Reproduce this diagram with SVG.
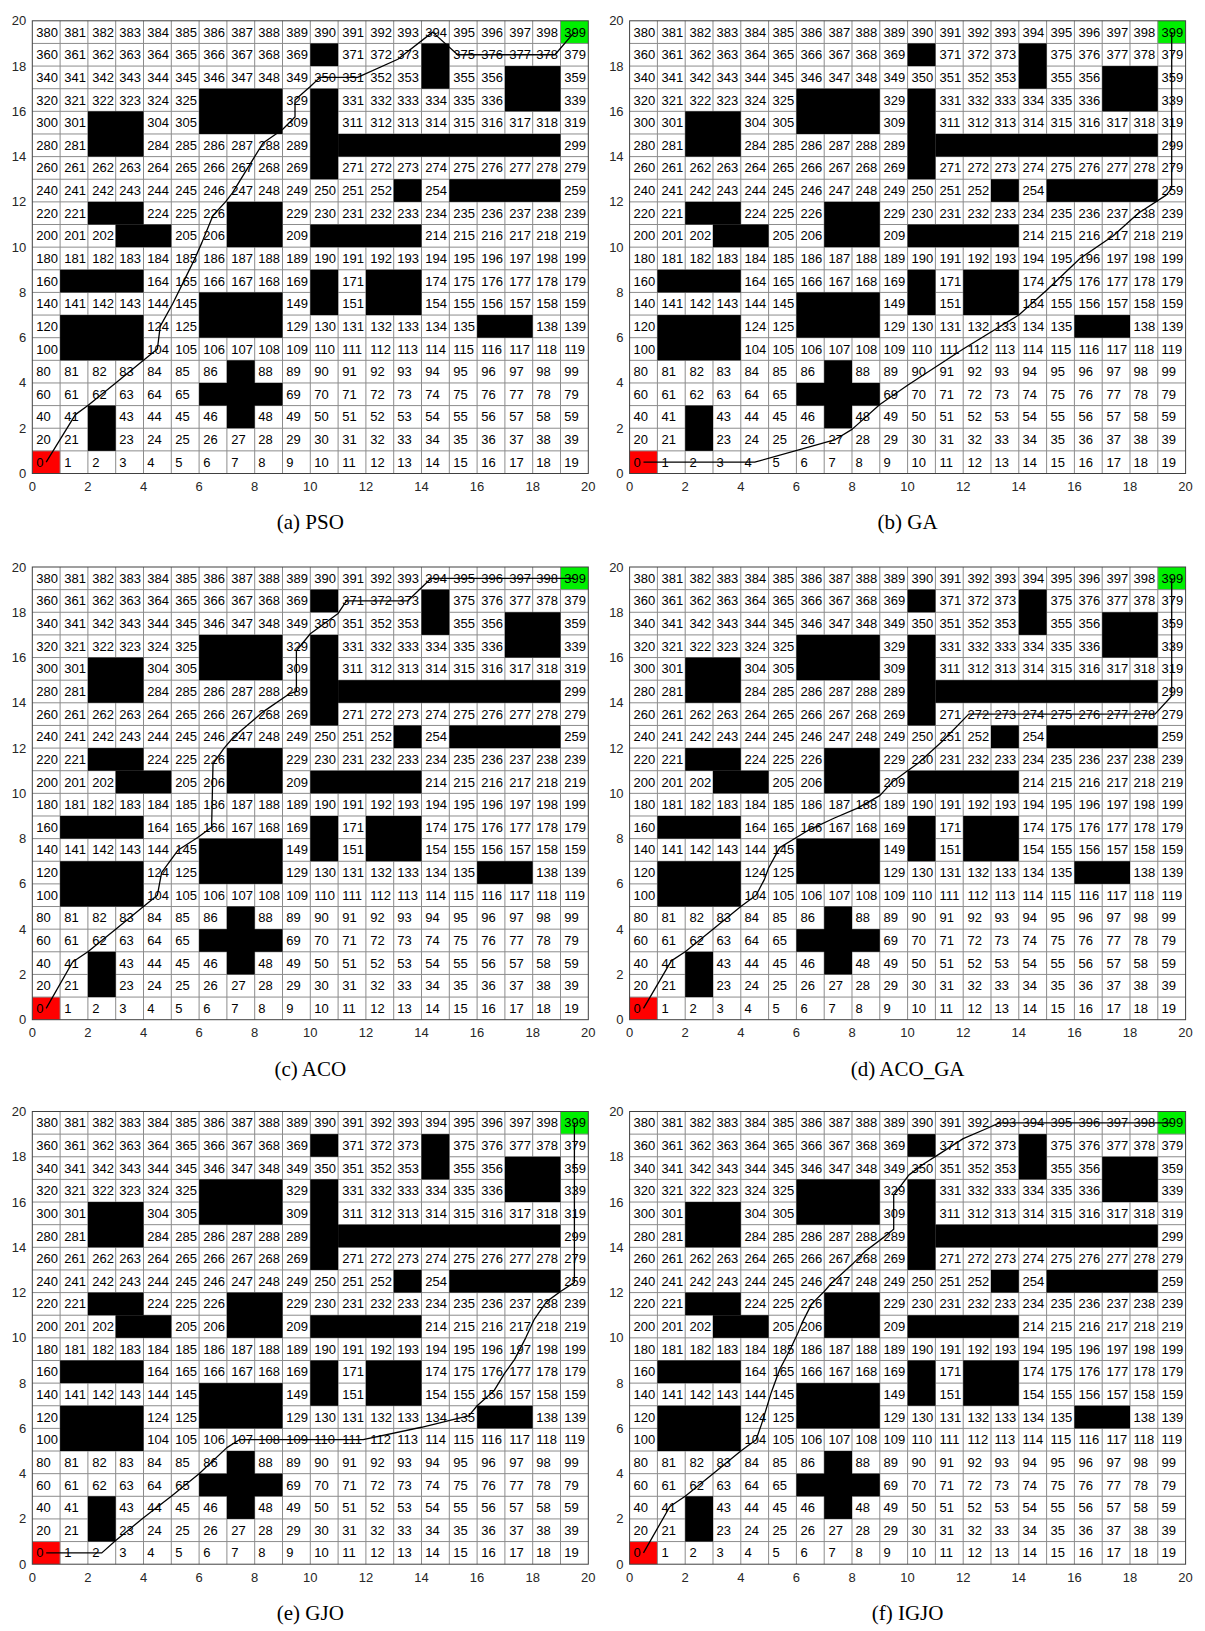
<svg xmlns="http://www.w3.org/2000/svg" xmlns:xlink="http://www.w3.org/1999/xlink" width="1205" height="1631" viewBox="0 0 1205 1631">
<style>
.n text{font-family:"Liberation Sans",Arial,sans-serif;font-size:13px;fill:#000}
.ty text{font-family:"Liberation Sans",Arial,sans-serif;font-size:13px;fill:#262626;text-anchor:end}
.tx text{font-family:"Liberation Sans",Arial,sans-serif;font-size:13px;fill:#262626;text-anchor:middle}
.cap{font-family:"Liberation Serif","Times New Roman",serif;font-size:21px;fill:#000;text-anchor:middle}
.p{fill:none;stroke:#000;stroke-width:1.3;vector-effect:non-scaling-stroke;stroke-linejoin:round}
.gl{fill:none;stroke:#8c8c8c;stroke-width:1}
.ob{fill:#000}
</style>
<defs>
<g id="field">
<rect x="0" y="0" width="556" height="452.7" fill="#fff"/>
<rect x="0" y="430.065" width="27.8" height="22.635" fill="#ff0000"/>
<rect x="528.2" y="0" width="27.8" height="22.635" fill="#00f000"/>
<path class="gl" d="M0 22.635H556M0 45.27H556M0 67.905H556M0 90.54H556M0 113.175H556M0 135.81H556M0 158.445H556M0 181.08H556M0 203.715H556M0 226.35H556M0 248.985H556M0 271.62H556M0 294.255H556M0 316.89H556M0 339.525H556M0 362.16H556M0 384.795H556M0 407.43H556M0 430.065H556M27.8 0V452.7M55.6 0V452.7M83.4 0V452.7M111.2 0V452.7M139 0V452.7M166.8 0V452.7M194.6 0V452.7M222.4 0V452.7M250.2 0V452.7M278 0V452.7M305.8 0V452.7M333.6 0V452.7M361.4 0V452.7M389.2 0V452.7M417 0V452.7M444.8 0V452.7M472.6 0V452.7M500.4 0V452.7M528.2 0V452.7"/>
<g class="ob">
<rect x="278" y="22.635" width="27.8" height="22.635"/>
<rect x="389.2" y="22.635" width="27.8" height="45.27"/>
<rect x="472.6" y="45.27" width="55.6" height="45.27"/>
<rect x="166.8" y="67.905" width="83.4" height="45.27"/>
<rect x="278" y="67.905" width="27.8" height="90.54"/>
<rect x="55.6" y="90.54" width="55.6" height="45.27"/>
<rect x="305.8" y="113.175" width="222.4" height="22.635"/>
<rect x="361.4" y="158.445" width="27.8" height="22.635"/>
<rect x="417" y="158.445" width="111.2" height="22.635"/>
<rect x="55.6" y="181.08" width="55.6" height="22.635"/>
<rect x="194.6" y="181.08" width="55.6" height="45.27"/>
<rect x="83.4" y="203.715" width="55.6" height="22.635"/>
<rect x="278" y="203.715" width="111.2" height="22.635"/>
<rect x="27.8" y="248.985" width="83.4" height="22.635"/>
<rect x="278" y="248.985" width="27.8" height="45.27"/>
<rect x="333.6" y="248.985" width="55.6" height="45.27"/>
<rect x="166.8" y="271.62" width="83.4" height="45.27"/>
<rect x="27.8" y="294.255" width="83.4" height="45.27"/>
<rect x="444.8" y="294.255" width="55.6" height="22.635"/>
<rect x="194.6" y="339.525" width="27.8" height="67.905"/>
<rect x="166.8" y="362.16" width="83.4" height="22.635"/>
<rect x="55.6" y="384.795" width="27.8" height="45.27"/>
</g>
<rect x="0" y="0" width="556" height="452.7" fill="none" stroke="#404040" stroke-width="1"/>
</g>
</defs>

<g id="panel-a" transform="translate(32.3,20.8)">
<use xlink:href="#field" href="#field"/>
<g class="n" transform="translate(4,15.8)">
<g><text x="0">380</text><text x="28">381</text><text x="56">382</text><text x="83">383</text><text x="111">384</text><text x="139">385</text><text x="167">386</text><text x="195">387</text><text x="222">388</text><text x="250">389</text><text x="278">390</text><text x="306">391</text><text x="334">392</text><text x="361">393</text><text x="389">394</text><text x="417">395</text><text x="445">396</text><text x="473">397</text><text x="500">398</text><text x="528">399</text></g>
<g transform="translate(0,22.6)"><text x="0">360</text><text x="28">361</text><text x="56">362</text><text x="83">363</text><text x="111">364</text><text x="139">365</text><text x="167">366</text><text x="195">367</text><text x="222">368</text><text x="250">369</text><text x="306">371</text><text x="334">372</text><text x="361">373</text><text x="417">375</text><text x="445">376</text><text x="473">377</text><text x="500">378</text><text x="528">379</text></g>
<g transform="translate(0,45.3)"><text x="0">340</text><text x="28">341</text><text x="56">342</text><text x="83">343</text><text x="111">344</text><text x="139">345</text><text x="167">346</text><text x="195">347</text><text x="222">348</text><text x="250">349</text><text x="278">350</text><text x="306">351</text><text x="334">352</text><text x="361">353</text><text x="417">355</text><text x="445">356</text><text x="528">359</text></g>
<g transform="translate(0,67.9)"><text x="0">320</text><text x="28">321</text><text x="56">322</text><text x="83">323</text><text x="111">324</text><text x="139">325</text><text x="250">329</text><text x="306">331</text><text x="334">332</text><text x="361">333</text><text x="389">334</text><text x="417">335</text><text x="445">336</text><text x="528">339</text></g>
<g transform="translate(0,90.5)"><text x="0">300</text><text x="28">301</text><text x="111">304</text><text x="139">305</text><text x="250">309</text><text x="306">311</text><text x="334">312</text><text x="361">313</text><text x="389">314</text><text x="417">315</text><text x="445">316</text><text x="473">317</text><text x="500">318</text><text x="528">319</text></g>
<g transform="translate(0,113.2)"><text x="0">280</text><text x="28">281</text><text x="111">284</text><text x="139">285</text><text x="167">286</text><text x="195">287</text><text x="222">288</text><text x="250">289</text><text x="528">299</text></g>
<g transform="translate(0,135.8)"><text x="0">260</text><text x="28">261</text><text x="56">262</text><text x="83">263</text><text x="111">264</text><text x="139">265</text><text x="167">266</text><text x="195">267</text><text x="222">268</text><text x="250">269</text><text x="306">271</text><text x="334">272</text><text x="361">273</text><text x="389">274</text><text x="417">275</text><text x="445">276</text><text x="473">277</text><text x="500">278</text><text x="528">279</text></g>
<g transform="translate(0,158.4)"><text x="0">240</text><text x="28">241</text><text x="56">242</text><text x="83">243</text><text x="111">244</text><text x="139">245</text><text x="167">246</text><text x="195">247</text><text x="222">248</text><text x="250">249</text><text x="278">250</text><text x="306">251</text><text x="334">252</text><text x="389">254</text><text x="528">259</text></g>
<g transform="translate(0,181.1)"><text x="0">220</text><text x="28">221</text><text x="111">224</text><text x="139">225</text><text x="167">226</text><text x="250">229</text><text x="278">230</text><text x="306">231</text><text x="334">232</text><text x="361">233</text><text x="389">234</text><text x="417">235</text><text x="445">236</text><text x="473">237</text><text x="500">238</text><text x="528">239</text></g>
<g transform="translate(0,203.7)"><text x="0">200</text><text x="28">201</text><text x="56">202</text><text x="139">205</text><text x="167">206</text><text x="250">209</text><text x="389">214</text><text x="417">215</text><text x="445">216</text><text x="473">217</text><text x="500">218</text><text x="528">219</text></g>
<g transform="translate(0,226.4)"><text x="0">180</text><text x="28">181</text><text x="56">182</text><text x="83">183</text><text x="111">184</text><text x="139">185</text><text x="167">186</text><text x="195">187</text><text x="222">188</text><text x="250">189</text><text x="278">190</text><text x="306">191</text><text x="334">192</text><text x="361">193</text><text x="389">194</text><text x="417">195</text><text x="445">196</text><text x="473">197</text><text x="500">198</text><text x="528">199</text></g>
<g transform="translate(0,249)"><text x="0">160</text><text x="111">164</text><text x="139">165</text><text x="167">166</text><text x="195">167</text><text x="222">168</text><text x="250">169</text><text x="306">171</text><text x="389">174</text><text x="417">175</text><text x="445">176</text><text x="473">177</text><text x="500">178</text><text x="528">179</text></g>
<g transform="translate(0,271.6)"><text x="0">140</text><text x="28">141</text><text x="56">142</text><text x="83">143</text><text x="111">144</text><text x="139">145</text><text x="250">149</text><text x="306">151</text><text x="389">154</text><text x="417">155</text><text x="445">156</text><text x="473">157</text><text x="500">158</text><text x="528">159</text></g>
<g transform="translate(0,294.3)"><text x="0">120</text><text x="111">124</text><text x="139">125</text><text x="250">129</text><text x="278">130</text><text x="306">131</text><text x="334">132</text><text x="361">133</text><text x="389">134</text><text x="417">135</text><text x="500">138</text><text x="528">139</text></g>
<g transform="translate(0,316.9)"><text x="0">100</text><text x="111">104</text><text x="139">105</text><text x="167">106</text><text x="195">107</text><text x="222">108</text><text x="250">109</text><text x="278">110</text><text x="306">111</text><text x="334">112</text><text x="361">113</text><text x="389">114</text><text x="417">115</text><text x="445">116</text><text x="473">117</text><text x="500">118</text><text x="528">119</text></g>
<g transform="translate(0,339.5)"><text x="0">80</text><text x="28">81</text><text x="56">82</text><text x="83">83</text><text x="111">84</text><text x="139">85</text><text x="167">86</text><text x="222">88</text><text x="250">89</text><text x="278">90</text><text x="306">91</text><text x="334">92</text><text x="361">93</text><text x="389">94</text><text x="417">95</text><text x="445">96</text><text x="473">97</text><text x="500">98</text><text x="528">99</text></g>
<g transform="translate(0,362.2)"><text x="0">60</text><text x="28">61</text><text x="56">62</text><text x="83">63</text><text x="111">64</text><text x="139">65</text><text x="250">69</text><text x="278">70</text><text x="306">71</text><text x="334">72</text><text x="361">73</text><text x="389">74</text><text x="417">75</text><text x="445">76</text><text x="473">77</text><text x="500">78</text><text x="528">79</text></g>
<g transform="translate(0,384.8)"><text x="0">40</text><text x="28">41</text><text x="83">43</text><text x="111">44</text><text x="139">45</text><text x="167">46</text><text x="222">48</text><text x="250">49</text><text x="278">50</text><text x="306">51</text><text x="334">52</text><text x="361">53</text><text x="389">54</text><text x="417">55</text><text x="445">56</text><text x="473">57</text><text x="500">58</text><text x="528">59</text></g>
<g transform="translate(0,407.4)"><text x="0">20</text><text x="28">21</text><text x="83">23</text><text x="111">24</text><text x="139">25</text><text x="167">26</text><text x="195">27</text><text x="222">28</text><text x="250">29</text><text x="278">30</text><text x="306">31</text><text x="334">32</text><text x="361">33</text><text x="389">34</text><text x="417">35</text><text x="445">36</text><text x="473">37</text><text x="500">38</text><text x="528">39</text></g>
<g transform="translate(0,430.1)"><text x="0">0</text><text x="28">1</text><text x="56">2</text><text x="83">3</text><text x="111">4</text><text x="139">5</text><text x="167">6</text><text x="195">7</text><text x="222">8</text><text x="250">9</text><text x="278">10</text><text x="306">11</text><text x="334">12</text><text x="361">13</text><text x="389">14</text><text x="417">15</text><text x="445">16</text><text x="473">17</text><text x="500">18</text><text x="528">19</text></g>
</g>
<g transform="scale(27.8,22.635)"><polyline class="p" points="0.5,19.5 1.55,17.4 2,17 3,16 4,15 4.5,14.5 4.6,13.5 5.05,12.5 5.45,11.5 5.85,10.5 6.1,9.8 6.2,9.5 6.5,8.6 6.95,8 7.2,7.6 7.95,6.1 8.3,5.4 9,4.8 9.45,4.25 9.45,3.5 10,2.9 10.35,2.5 11.7,2.5 13.15,1.7 14.4,0.5 15.3,1.5 18.8,1.5 19.5,0.5"/></g>
<g class="ty"><text x="-6" y="4.5">20</text><text x="-6" y="49.8">18</text><text x="-6" y="95">16</text><text x="-6" y="140.3">14</text><text x="-6" y="185.6">12</text><text x="-6" y="230.9">10</text><text x="-6" y="276.1">8</text><text x="-6" y="321.4">6</text><text x="-6" y="366.7">4</text><text x="-6" y="411.9">2</text><text x="-6" y="457.2">0</text></g>
<g class="tx"><text x="0" y="470">0</text><text x="55.6" y="470">2</text><text x="111.2" y="470">4</text><text x="166.8" y="470">6</text><text x="222.4" y="470">8</text><text x="278" y="470">10</text><text x="333.6" y="470">12</text><text x="389.2" y="470">14</text><text x="444.8" y="470">16</text><text x="500.4" y="470">18</text><text x="556" y="470">20</text></g>
<text class="cap" x="278" y="508.7">(a) PSO</text>
</g>

<g id="panel-b" transform="translate(629.6,20.8)">
<use xlink:href="#field" href="#field"/>
<g class="n" transform="translate(4,15.8)">
<g><text x="0">380</text><text x="28">381</text><text x="56">382</text><text x="83">383</text><text x="111">384</text><text x="139">385</text><text x="167">386</text><text x="195">387</text><text x="222">388</text><text x="250">389</text><text x="278">390</text><text x="306">391</text><text x="334">392</text><text x="361">393</text><text x="389">394</text><text x="417">395</text><text x="445">396</text><text x="473">397</text><text x="500">398</text><text x="528">399</text></g>
<g transform="translate(0,22.6)"><text x="0">360</text><text x="28">361</text><text x="56">362</text><text x="83">363</text><text x="111">364</text><text x="139">365</text><text x="167">366</text><text x="195">367</text><text x="222">368</text><text x="250">369</text><text x="306">371</text><text x="334">372</text><text x="361">373</text><text x="417">375</text><text x="445">376</text><text x="473">377</text><text x="500">378</text><text x="528">379</text></g>
<g transform="translate(0,45.3)"><text x="0">340</text><text x="28">341</text><text x="56">342</text><text x="83">343</text><text x="111">344</text><text x="139">345</text><text x="167">346</text><text x="195">347</text><text x="222">348</text><text x="250">349</text><text x="278">350</text><text x="306">351</text><text x="334">352</text><text x="361">353</text><text x="417">355</text><text x="445">356</text><text x="528">359</text></g>
<g transform="translate(0,67.9)"><text x="0">320</text><text x="28">321</text><text x="56">322</text><text x="83">323</text><text x="111">324</text><text x="139">325</text><text x="250">329</text><text x="306">331</text><text x="334">332</text><text x="361">333</text><text x="389">334</text><text x="417">335</text><text x="445">336</text><text x="528">339</text></g>
<g transform="translate(0,90.5)"><text x="0">300</text><text x="28">301</text><text x="111">304</text><text x="139">305</text><text x="250">309</text><text x="306">311</text><text x="334">312</text><text x="361">313</text><text x="389">314</text><text x="417">315</text><text x="445">316</text><text x="473">317</text><text x="500">318</text><text x="528">319</text></g>
<g transform="translate(0,113.2)"><text x="0">280</text><text x="28">281</text><text x="111">284</text><text x="139">285</text><text x="167">286</text><text x="195">287</text><text x="222">288</text><text x="250">289</text><text x="528">299</text></g>
<g transform="translate(0,135.8)"><text x="0">260</text><text x="28">261</text><text x="56">262</text><text x="83">263</text><text x="111">264</text><text x="139">265</text><text x="167">266</text><text x="195">267</text><text x="222">268</text><text x="250">269</text><text x="306">271</text><text x="334">272</text><text x="361">273</text><text x="389">274</text><text x="417">275</text><text x="445">276</text><text x="473">277</text><text x="500">278</text><text x="528">279</text></g>
<g transform="translate(0,158.4)"><text x="0">240</text><text x="28">241</text><text x="56">242</text><text x="83">243</text><text x="111">244</text><text x="139">245</text><text x="167">246</text><text x="195">247</text><text x="222">248</text><text x="250">249</text><text x="278">250</text><text x="306">251</text><text x="334">252</text><text x="389">254</text><text x="528">259</text></g>
<g transform="translate(0,181.1)"><text x="0">220</text><text x="28">221</text><text x="111">224</text><text x="139">225</text><text x="167">226</text><text x="250">229</text><text x="278">230</text><text x="306">231</text><text x="334">232</text><text x="361">233</text><text x="389">234</text><text x="417">235</text><text x="445">236</text><text x="473">237</text><text x="500">238</text><text x="528">239</text></g>
<g transform="translate(0,203.7)"><text x="0">200</text><text x="28">201</text><text x="56">202</text><text x="139">205</text><text x="167">206</text><text x="250">209</text><text x="389">214</text><text x="417">215</text><text x="445">216</text><text x="473">217</text><text x="500">218</text><text x="528">219</text></g>
<g transform="translate(0,226.4)"><text x="0">180</text><text x="28">181</text><text x="56">182</text><text x="83">183</text><text x="111">184</text><text x="139">185</text><text x="167">186</text><text x="195">187</text><text x="222">188</text><text x="250">189</text><text x="278">190</text><text x="306">191</text><text x="334">192</text><text x="361">193</text><text x="389">194</text><text x="417">195</text><text x="445">196</text><text x="473">197</text><text x="500">198</text><text x="528">199</text></g>
<g transform="translate(0,249)"><text x="0">160</text><text x="111">164</text><text x="139">165</text><text x="167">166</text><text x="195">167</text><text x="222">168</text><text x="250">169</text><text x="306">171</text><text x="389">174</text><text x="417">175</text><text x="445">176</text><text x="473">177</text><text x="500">178</text><text x="528">179</text></g>
<g transform="translate(0,271.6)"><text x="0">140</text><text x="28">141</text><text x="56">142</text><text x="83">143</text><text x="111">144</text><text x="139">145</text><text x="250">149</text><text x="306">151</text><text x="389">154</text><text x="417">155</text><text x="445">156</text><text x="473">157</text><text x="500">158</text><text x="528">159</text></g>
<g transform="translate(0,294.3)"><text x="0">120</text><text x="111">124</text><text x="139">125</text><text x="250">129</text><text x="278">130</text><text x="306">131</text><text x="334">132</text><text x="361">133</text><text x="389">134</text><text x="417">135</text><text x="500">138</text><text x="528">139</text></g>
<g transform="translate(0,316.9)"><text x="0">100</text><text x="111">104</text><text x="139">105</text><text x="167">106</text><text x="195">107</text><text x="222">108</text><text x="250">109</text><text x="278">110</text><text x="306">111</text><text x="334">112</text><text x="361">113</text><text x="389">114</text><text x="417">115</text><text x="445">116</text><text x="473">117</text><text x="500">118</text><text x="528">119</text></g>
<g transform="translate(0,339.5)"><text x="0">80</text><text x="28">81</text><text x="56">82</text><text x="83">83</text><text x="111">84</text><text x="139">85</text><text x="167">86</text><text x="222">88</text><text x="250">89</text><text x="278">90</text><text x="306">91</text><text x="334">92</text><text x="361">93</text><text x="389">94</text><text x="417">95</text><text x="445">96</text><text x="473">97</text><text x="500">98</text><text x="528">99</text></g>
<g transform="translate(0,362.2)"><text x="0">60</text><text x="28">61</text><text x="56">62</text><text x="83">63</text><text x="111">64</text><text x="139">65</text><text x="250">69</text><text x="278">70</text><text x="306">71</text><text x="334">72</text><text x="361">73</text><text x="389">74</text><text x="417">75</text><text x="445">76</text><text x="473">77</text><text x="500">78</text><text x="528">79</text></g>
<g transform="translate(0,384.8)"><text x="0">40</text><text x="28">41</text><text x="83">43</text><text x="111">44</text><text x="139">45</text><text x="167">46</text><text x="222">48</text><text x="250">49</text><text x="278">50</text><text x="306">51</text><text x="334">52</text><text x="361">53</text><text x="389">54</text><text x="417">55</text><text x="445">56</text><text x="473">57</text><text x="500">58</text><text x="528">59</text></g>
<g transform="translate(0,407.4)"><text x="0">20</text><text x="28">21</text><text x="83">23</text><text x="111">24</text><text x="139">25</text><text x="167">26</text><text x="195">27</text><text x="222">28</text><text x="250">29</text><text x="278">30</text><text x="306">31</text><text x="334">32</text><text x="361">33</text><text x="389">34</text><text x="417">35</text><text x="445">36</text><text x="473">37</text><text x="500">38</text><text x="528">39</text></g>
<g transform="translate(0,430.1)"><text x="0">0</text><text x="28">1</text><text x="56">2</text><text x="83">3</text><text x="111">4</text><text x="139">5</text><text x="167">6</text><text x="195">7</text><text x="222">8</text><text x="250">9</text><text x="278">10</text><text x="306">11</text><text x="334">12</text><text x="361">13</text><text x="389">14</text><text x="417">15</text><text x="445">16</text><text x="473">17</text><text x="500">18</text><text x="528">19</text></g>
</g>
<g transform="scale(27.8,22.635)"><polyline class="p" points="0.5,19.5 4.5,19.5 7.4,18.5 8,18.05 9,16.95 10,16.1 12,14.5 14,13 15,11.9 16.2,10.5 17.4,9.5 18.3,8.5 19.3,7.7 19.5,7.4 19.5,0.5"/></g>
<g class="ty"><text x="-6" y="4.5">20</text><text x="-6" y="49.8">18</text><text x="-6" y="95">16</text><text x="-6" y="140.3">14</text><text x="-6" y="185.6">12</text><text x="-6" y="230.9">10</text><text x="-6" y="276.1">8</text><text x="-6" y="321.4">6</text><text x="-6" y="366.7">4</text><text x="-6" y="411.9">2</text><text x="-6" y="457.2">0</text></g>
<g class="tx"><text x="0" y="470">0</text><text x="55.6" y="470">2</text><text x="111.2" y="470">4</text><text x="166.8" y="470">6</text><text x="222.4" y="470">8</text><text x="278" y="470">10</text><text x="333.6" y="470">12</text><text x="389.2" y="470">14</text><text x="444.8" y="470">16</text><text x="500.4" y="470">18</text><text x="556" y="470">20</text></g>
<text class="cap" x="278" y="508.7">(b) GA</text>
</g>

<g id="panel-c" transform="translate(32.3,567)">
<use xlink:href="#field" href="#field"/>
<g class="n" transform="translate(4,15.8)">
<g><text x="0">380</text><text x="28">381</text><text x="56">382</text><text x="83">383</text><text x="111">384</text><text x="139">385</text><text x="167">386</text><text x="195">387</text><text x="222">388</text><text x="250">389</text><text x="278">390</text><text x="306">391</text><text x="334">392</text><text x="361">393</text><text x="389">394</text><text x="417">395</text><text x="445">396</text><text x="473">397</text><text x="500">398</text><text x="528">399</text></g>
<g transform="translate(0,22.6)"><text x="0">360</text><text x="28">361</text><text x="56">362</text><text x="83">363</text><text x="111">364</text><text x="139">365</text><text x="167">366</text><text x="195">367</text><text x="222">368</text><text x="250">369</text><text x="306">371</text><text x="334">372</text><text x="361">373</text><text x="417">375</text><text x="445">376</text><text x="473">377</text><text x="500">378</text><text x="528">379</text></g>
<g transform="translate(0,45.3)"><text x="0">340</text><text x="28">341</text><text x="56">342</text><text x="83">343</text><text x="111">344</text><text x="139">345</text><text x="167">346</text><text x="195">347</text><text x="222">348</text><text x="250">349</text><text x="278">350</text><text x="306">351</text><text x="334">352</text><text x="361">353</text><text x="417">355</text><text x="445">356</text><text x="528">359</text></g>
<g transform="translate(0,67.9)"><text x="0">320</text><text x="28">321</text><text x="56">322</text><text x="83">323</text><text x="111">324</text><text x="139">325</text><text x="250">329</text><text x="306">331</text><text x="334">332</text><text x="361">333</text><text x="389">334</text><text x="417">335</text><text x="445">336</text><text x="528">339</text></g>
<g transform="translate(0,90.5)"><text x="0">300</text><text x="28">301</text><text x="111">304</text><text x="139">305</text><text x="250">309</text><text x="306">311</text><text x="334">312</text><text x="361">313</text><text x="389">314</text><text x="417">315</text><text x="445">316</text><text x="473">317</text><text x="500">318</text><text x="528">319</text></g>
<g transform="translate(0,113.2)"><text x="0">280</text><text x="28">281</text><text x="111">284</text><text x="139">285</text><text x="167">286</text><text x="195">287</text><text x="222">288</text><text x="250">289</text><text x="528">299</text></g>
<g transform="translate(0,135.8)"><text x="0">260</text><text x="28">261</text><text x="56">262</text><text x="83">263</text><text x="111">264</text><text x="139">265</text><text x="167">266</text><text x="195">267</text><text x="222">268</text><text x="250">269</text><text x="306">271</text><text x="334">272</text><text x="361">273</text><text x="389">274</text><text x="417">275</text><text x="445">276</text><text x="473">277</text><text x="500">278</text><text x="528">279</text></g>
<g transform="translate(0,158.4)"><text x="0">240</text><text x="28">241</text><text x="56">242</text><text x="83">243</text><text x="111">244</text><text x="139">245</text><text x="167">246</text><text x="195">247</text><text x="222">248</text><text x="250">249</text><text x="278">250</text><text x="306">251</text><text x="334">252</text><text x="389">254</text><text x="528">259</text></g>
<g transform="translate(0,181.1)"><text x="0">220</text><text x="28">221</text><text x="111">224</text><text x="139">225</text><text x="167">226</text><text x="250">229</text><text x="278">230</text><text x="306">231</text><text x="334">232</text><text x="361">233</text><text x="389">234</text><text x="417">235</text><text x="445">236</text><text x="473">237</text><text x="500">238</text><text x="528">239</text></g>
<g transform="translate(0,203.7)"><text x="0">200</text><text x="28">201</text><text x="56">202</text><text x="139">205</text><text x="167">206</text><text x="250">209</text><text x="389">214</text><text x="417">215</text><text x="445">216</text><text x="473">217</text><text x="500">218</text><text x="528">219</text></g>
<g transform="translate(0,226.4)"><text x="0">180</text><text x="28">181</text><text x="56">182</text><text x="83">183</text><text x="111">184</text><text x="139">185</text><text x="167">186</text><text x="195">187</text><text x="222">188</text><text x="250">189</text><text x="278">190</text><text x="306">191</text><text x="334">192</text><text x="361">193</text><text x="389">194</text><text x="417">195</text><text x="445">196</text><text x="473">197</text><text x="500">198</text><text x="528">199</text></g>
<g transform="translate(0,249)"><text x="0">160</text><text x="111">164</text><text x="139">165</text><text x="167">166</text><text x="195">167</text><text x="222">168</text><text x="250">169</text><text x="306">171</text><text x="389">174</text><text x="417">175</text><text x="445">176</text><text x="473">177</text><text x="500">178</text><text x="528">179</text></g>
<g transform="translate(0,271.6)"><text x="0">140</text><text x="28">141</text><text x="56">142</text><text x="83">143</text><text x="111">144</text><text x="139">145</text><text x="250">149</text><text x="306">151</text><text x="389">154</text><text x="417">155</text><text x="445">156</text><text x="473">157</text><text x="500">158</text><text x="528">159</text></g>
<g transform="translate(0,294.3)"><text x="0">120</text><text x="111">124</text><text x="139">125</text><text x="250">129</text><text x="278">130</text><text x="306">131</text><text x="334">132</text><text x="361">133</text><text x="389">134</text><text x="417">135</text><text x="500">138</text><text x="528">139</text></g>
<g transform="translate(0,316.9)"><text x="0">100</text><text x="111">104</text><text x="139">105</text><text x="167">106</text><text x="195">107</text><text x="222">108</text><text x="250">109</text><text x="278">110</text><text x="306">111</text><text x="334">112</text><text x="361">113</text><text x="389">114</text><text x="417">115</text><text x="445">116</text><text x="473">117</text><text x="500">118</text><text x="528">119</text></g>
<g transform="translate(0,339.5)"><text x="0">80</text><text x="28">81</text><text x="56">82</text><text x="83">83</text><text x="111">84</text><text x="139">85</text><text x="167">86</text><text x="222">88</text><text x="250">89</text><text x="278">90</text><text x="306">91</text><text x="334">92</text><text x="361">93</text><text x="389">94</text><text x="417">95</text><text x="445">96</text><text x="473">97</text><text x="500">98</text><text x="528">99</text></g>
<g transform="translate(0,362.2)"><text x="0">60</text><text x="28">61</text><text x="56">62</text><text x="83">63</text><text x="111">64</text><text x="139">65</text><text x="250">69</text><text x="278">70</text><text x="306">71</text><text x="334">72</text><text x="361">73</text><text x="389">74</text><text x="417">75</text><text x="445">76</text><text x="473">77</text><text x="500">78</text><text x="528">79</text></g>
<g transform="translate(0,384.8)"><text x="0">40</text><text x="28">41</text><text x="83">43</text><text x="111">44</text><text x="139">45</text><text x="167">46</text><text x="222">48</text><text x="250">49</text><text x="278">50</text><text x="306">51</text><text x="334">52</text><text x="361">53</text><text x="389">54</text><text x="417">55</text><text x="445">56</text><text x="473">57</text><text x="500">58</text><text x="528">59</text></g>
<g transform="translate(0,407.4)"><text x="0">20</text><text x="28">21</text><text x="83">23</text><text x="111">24</text><text x="139">25</text><text x="167">26</text><text x="195">27</text><text x="222">28</text><text x="250">29</text><text x="278">30</text><text x="306">31</text><text x="334">32</text><text x="361">33</text><text x="389">34</text><text x="417">35</text><text x="445">36</text><text x="473">37</text><text x="500">38</text><text x="528">39</text></g>
<g transform="translate(0,430.1)"><text x="0">0</text><text x="28">1</text><text x="56">2</text><text x="83">3</text><text x="111">4</text><text x="139">5</text><text x="167">6</text><text x="195">7</text><text x="222">8</text><text x="250">9</text><text x="278">10</text><text x="306">11</text><text x="334">12</text><text x="361">13</text><text x="389">14</text><text x="417">15</text><text x="445">16</text><text x="473">17</text><text x="500">18</text><text x="528">19</text></g>
</g>
<g transform="scale(27.8,22.635)"><polyline class="p" points="0.5,19.5 1.45,17.45 2,17 3,16 4,15 4.5,14.5 4.65,13.5 5.25,12.5 5.95,11.95 6.45,11.5 6.5,8.7 6.9,8 7.25,7.5 8.3,6.4 9.25,5.6 9.5,5.5 9.5,3.7 10,2.95 11,2.05 11.3,1.5 13.5,1.5 14.35,0.5 19.5,0.5"/></g>
<g class="ty"><text x="-6" y="4.5">20</text><text x="-6" y="49.8">18</text><text x="-6" y="95">16</text><text x="-6" y="140.3">14</text><text x="-6" y="185.6">12</text><text x="-6" y="230.9">10</text><text x="-6" y="276.1">8</text><text x="-6" y="321.4">6</text><text x="-6" y="366.7">4</text><text x="-6" y="411.9">2</text><text x="-6" y="457.2">0</text></g>
<g class="tx"><text x="0" y="470">0</text><text x="55.6" y="470">2</text><text x="111.2" y="470">4</text><text x="166.8" y="470">6</text><text x="222.4" y="470">8</text><text x="278" y="470">10</text><text x="333.6" y="470">12</text><text x="389.2" y="470">14</text><text x="444.8" y="470">16</text><text x="500.4" y="470">18</text><text x="556" y="470">20</text></g>
<text class="cap" x="278" y="508.7">(c) ACO</text>
</g>

<g id="panel-d" transform="translate(629.6,567)">
<use xlink:href="#field" href="#field"/>
<g class="n" transform="translate(4,15.8)">
<g><text x="0">380</text><text x="28">381</text><text x="56">382</text><text x="83">383</text><text x="111">384</text><text x="139">385</text><text x="167">386</text><text x="195">387</text><text x="222">388</text><text x="250">389</text><text x="278">390</text><text x="306">391</text><text x="334">392</text><text x="361">393</text><text x="389">394</text><text x="417">395</text><text x="445">396</text><text x="473">397</text><text x="500">398</text><text x="528">399</text></g>
<g transform="translate(0,22.6)"><text x="0">360</text><text x="28">361</text><text x="56">362</text><text x="83">363</text><text x="111">364</text><text x="139">365</text><text x="167">366</text><text x="195">367</text><text x="222">368</text><text x="250">369</text><text x="306">371</text><text x="334">372</text><text x="361">373</text><text x="417">375</text><text x="445">376</text><text x="473">377</text><text x="500">378</text><text x="528">379</text></g>
<g transform="translate(0,45.3)"><text x="0">340</text><text x="28">341</text><text x="56">342</text><text x="83">343</text><text x="111">344</text><text x="139">345</text><text x="167">346</text><text x="195">347</text><text x="222">348</text><text x="250">349</text><text x="278">350</text><text x="306">351</text><text x="334">352</text><text x="361">353</text><text x="417">355</text><text x="445">356</text><text x="528">359</text></g>
<g transform="translate(0,67.9)"><text x="0">320</text><text x="28">321</text><text x="56">322</text><text x="83">323</text><text x="111">324</text><text x="139">325</text><text x="250">329</text><text x="306">331</text><text x="334">332</text><text x="361">333</text><text x="389">334</text><text x="417">335</text><text x="445">336</text><text x="528">339</text></g>
<g transform="translate(0,90.5)"><text x="0">300</text><text x="28">301</text><text x="111">304</text><text x="139">305</text><text x="250">309</text><text x="306">311</text><text x="334">312</text><text x="361">313</text><text x="389">314</text><text x="417">315</text><text x="445">316</text><text x="473">317</text><text x="500">318</text><text x="528">319</text></g>
<g transform="translate(0,113.2)"><text x="0">280</text><text x="28">281</text><text x="111">284</text><text x="139">285</text><text x="167">286</text><text x="195">287</text><text x="222">288</text><text x="250">289</text><text x="528">299</text></g>
<g transform="translate(0,135.8)"><text x="0">260</text><text x="28">261</text><text x="56">262</text><text x="83">263</text><text x="111">264</text><text x="139">265</text><text x="167">266</text><text x="195">267</text><text x="222">268</text><text x="250">269</text><text x="306">271</text><text x="334">272</text><text x="361">273</text><text x="389">274</text><text x="417">275</text><text x="445">276</text><text x="473">277</text><text x="500">278</text><text x="528">279</text></g>
<g transform="translate(0,158.4)"><text x="0">240</text><text x="28">241</text><text x="56">242</text><text x="83">243</text><text x="111">244</text><text x="139">245</text><text x="167">246</text><text x="195">247</text><text x="222">248</text><text x="250">249</text><text x="278">250</text><text x="306">251</text><text x="334">252</text><text x="389">254</text><text x="528">259</text></g>
<g transform="translate(0,181.1)"><text x="0">220</text><text x="28">221</text><text x="111">224</text><text x="139">225</text><text x="167">226</text><text x="250">229</text><text x="278">230</text><text x="306">231</text><text x="334">232</text><text x="361">233</text><text x="389">234</text><text x="417">235</text><text x="445">236</text><text x="473">237</text><text x="500">238</text><text x="528">239</text></g>
<g transform="translate(0,203.7)"><text x="0">200</text><text x="28">201</text><text x="56">202</text><text x="139">205</text><text x="167">206</text><text x="250">209</text><text x="389">214</text><text x="417">215</text><text x="445">216</text><text x="473">217</text><text x="500">218</text><text x="528">219</text></g>
<g transform="translate(0,226.4)"><text x="0">180</text><text x="28">181</text><text x="56">182</text><text x="83">183</text><text x="111">184</text><text x="139">185</text><text x="167">186</text><text x="195">187</text><text x="222">188</text><text x="250">189</text><text x="278">190</text><text x="306">191</text><text x="334">192</text><text x="361">193</text><text x="389">194</text><text x="417">195</text><text x="445">196</text><text x="473">197</text><text x="500">198</text><text x="528">199</text></g>
<g transform="translate(0,249)"><text x="0">160</text><text x="111">164</text><text x="139">165</text><text x="167">166</text><text x="195">167</text><text x="222">168</text><text x="250">169</text><text x="306">171</text><text x="389">174</text><text x="417">175</text><text x="445">176</text><text x="473">177</text><text x="500">178</text><text x="528">179</text></g>
<g transform="translate(0,271.6)"><text x="0">140</text><text x="28">141</text><text x="56">142</text><text x="83">143</text><text x="111">144</text><text x="139">145</text><text x="250">149</text><text x="306">151</text><text x="389">154</text><text x="417">155</text><text x="445">156</text><text x="473">157</text><text x="500">158</text><text x="528">159</text></g>
<g transform="translate(0,294.3)"><text x="0">120</text><text x="111">124</text><text x="139">125</text><text x="250">129</text><text x="278">130</text><text x="306">131</text><text x="334">132</text><text x="361">133</text><text x="389">134</text><text x="417">135</text><text x="500">138</text><text x="528">139</text></g>
<g transform="translate(0,316.9)"><text x="0">100</text><text x="111">104</text><text x="139">105</text><text x="167">106</text><text x="195">107</text><text x="222">108</text><text x="250">109</text><text x="278">110</text><text x="306">111</text><text x="334">112</text><text x="361">113</text><text x="389">114</text><text x="417">115</text><text x="445">116</text><text x="473">117</text><text x="500">118</text><text x="528">119</text></g>
<g transform="translate(0,339.5)"><text x="0">80</text><text x="28">81</text><text x="56">82</text><text x="83">83</text><text x="111">84</text><text x="139">85</text><text x="167">86</text><text x="222">88</text><text x="250">89</text><text x="278">90</text><text x="306">91</text><text x="334">92</text><text x="361">93</text><text x="389">94</text><text x="417">95</text><text x="445">96</text><text x="473">97</text><text x="500">98</text><text x="528">99</text></g>
<g transform="translate(0,362.2)"><text x="0">60</text><text x="28">61</text><text x="56">62</text><text x="83">63</text><text x="111">64</text><text x="139">65</text><text x="250">69</text><text x="278">70</text><text x="306">71</text><text x="334">72</text><text x="361">73</text><text x="389">74</text><text x="417">75</text><text x="445">76</text><text x="473">77</text><text x="500">78</text><text x="528">79</text></g>
<g transform="translate(0,384.8)"><text x="0">40</text><text x="28">41</text><text x="83">43</text><text x="111">44</text><text x="139">45</text><text x="167">46</text><text x="222">48</text><text x="250">49</text><text x="278">50</text><text x="306">51</text><text x="334">52</text><text x="361">53</text><text x="389">54</text><text x="417">55</text><text x="445">56</text><text x="473">57</text><text x="500">58</text><text x="528">59</text></g>
<g transform="translate(0,407.4)"><text x="0">20</text><text x="28">21</text><text x="83">23</text><text x="111">24</text><text x="139">25</text><text x="167">26</text><text x="195">27</text><text x="222">28</text><text x="250">29</text><text x="278">30</text><text x="306">31</text><text x="334">32</text><text x="361">33</text><text x="389">34</text><text x="417">35</text><text x="445">36</text><text x="473">37</text><text x="500">38</text><text x="528">39</text></g>
<g transform="translate(0,430.1)"><text x="0">0</text><text x="28">1</text><text x="56">2</text><text x="83">3</text><text x="111">4</text><text x="139">5</text><text x="167">6</text><text x="195">7</text><text x="222">8</text><text x="250">9</text><text x="278">10</text><text x="306">11</text><text x="334">12</text><text x="361">13</text><text x="389">14</text><text x="417">15</text><text x="445">16</text><text x="473">17</text><text x="500">18</text><text x="528">19</text></g>
</g>
<g transform="scale(27.8,22.635)"><polyline class="p" points="0.5,19.5 1.5,17.4 2,17 3,16 4,15 4.55,14.5 4.85,13.8 5,13.3 5.4,12.4 6,11.95 6.4,11.65 7.35,11.1 8.2,10.65 9,10.1 9.45,9.5 9.95,9.05 10.4,8.65 11.25,7.7 12.2,6.5 18.9,6.5 19.5,5.7 19.5,0.5"/></g>
<g class="ty"><text x="-6" y="4.5">20</text><text x="-6" y="49.8">18</text><text x="-6" y="95">16</text><text x="-6" y="140.3">14</text><text x="-6" y="185.6">12</text><text x="-6" y="230.9">10</text><text x="-6" y="276.1">8</text><text x="-6" y="321.4">6</text><text x="-6" y="366.7">4</text><text x="-6" y="411.9">2</text><text x="-6" y="457.2">0</text></g>
<g class="tx"><text x="0" y="470">0</text><text x="55.6" y="470">2</text><text x="111.2" y="470">4</text><text x="166.8" y="470">6</text><text x="222.4" y="470">8</text><text x="278" y="470">10</text><text x="333.6" y="470">12</text><text x="389.2" y="470">14</text><text x="444.8" y="470">16</text><text x="500.4" y="470">18</text><text x="556" y="470">20</text></g>
<text class="cap" x="278" y="508.7">(d) ACO_GA</text>
</g>

<g id="panel-e" transform="translate(32.3,1111.5)">
<use xlink:href="#field" href="#field"/>
<g class="n" transform="translate(4,15.8)">
<g><text x="0">380</text><text x="28">381</text><text x="56">382</text><text x="83">383</text><text x="111">384</text><text x="139">385</text><text x="167">386</text><text x="195">387</text><text x="222">388</text><text x="250">389</text><text x="278">390</text><text x="306">391</text><text x="334">392</text><text x="361">393</text><text x="389">394</text><text x="417">395</text><text x="445">396</text><text x="473">397</text><text x="500">398</text><text x="528">399</text></g>
<g transform="translate(0,22.6)"><text x="0">360</text><text x="28">361</text><text x="56">362</text><text x="83">363</text><text x="111">364</text><text x="139">365</text><text x="167">366</text><text x="195">367</text><text x="222">368</text><text x="250">369</text><text x="306">371</text><text x="334">372</text><text x="361">373</text><text x="417">375</text><text x="445">376</text><text x="473">377</text><text x="500">378</text><text x="528">379</text></g>
<g transform="translate(0,45.3)"><text x="0">340</text><text x="28">341</text><text x="56">342</text><text x="83">343</text><text x="111">344</text><text x="139">345</text><text x="167">346</text><text x="195">347</text><text x="222">348</text><text x="250">349</text><text x="278">350</text><text x="306">351</text><text x="334">352</text><text x="361">353</text><text x="417">355</text><text x="445">356</text><text x="528">359</text></g>
<g transform="translate(0,67.9)"><text x="0">320</text><text x="28">321</text><text x="56">322</text><text x="83">323</text><text x="111">324</text><text x="139">325</text><text x="250">329</text><text x="306">331</text><text x="334">332</text><text x="361">333</text><text x="389">334</text><text x="417">335</text><text x="445">336</text><text x="528">339</text></g>
<g transform="translate(0,90.5)"><text x="0">300</text><text x="28">301</text><text x="111">304</text><text x="139">305</text><text x="250">309</text><text x="306">311</text><text x="334">312</text><text x="361">313</text><text x="389">314</text><text x="417">315</text><text x="445">316</text><text x="473">317</text><text x="500">318</text><text x="528">319</text></g>
<g transform="translate(0,113.2)"><text x="0">280</text><text x="28">281</text><text x="111">284</text><text x="139">285</text><text x="167">286</text><text x="195">287</text><text x="222">288</text><text x="250">289</text><text x="528">299</text></g>
<g transform="translate(0,135.8)"><text x="0">260</text><text x="28">261</text><text x="56">262</text><text x="83">263</text><text x="111">264</text><text x="139">265</text><text x="167">266</text><text x="195">267</text><text x="222">268</text><text x="250">269</text><text x="306">271</text><text x="334">272</text><text x="361">273</text><text x="389">274</text><text x="417">275</text><text x="445">276</text><text x="473">277</text><text x="500">278</text><text x="528">279</text></g>
<g transform="translate(0,158.4)"><text x="0">240</text><text x="28">241</text><text x="56">242</text><text x="83">243</text><text x="111">244</text><text x="139">245</text><text x="167">246</text><text x="195">247</text><text x="222">248</text><text x="250">249</text><text x="278">250</text><text x="306">251</text><text x="334">252</text><text x="389">254</text><text x="528">259</text></g>
<g transform="translate(0,181.1)"><text x="0">220</text><text x="28">221</text><text x="111">224</text><text x="139">225</text><text x="167">226</text><text x="250">229</text><text x="278">230</text><text x="306">231</text><text x="334">232</text><text x="361">233</text><text x="389">234</text><text x="417">235</text><text x="445">236</text><text x="473">237</text><text x="500">238</text><text x="528">239</text></g>
<g transform="translate(0,203.7)"><text x="0">200</text><text x="28">201</text><text x="56">202</text><text x="139">205</text><text x="167">206</text><text x="250">209</text><text x="389">214</text><text x="417">215</text><text x="445">216</text><text x="473">217</text><text x="500">218</text><text x="528">219</text></g>
<g transform="translate(0,226.4)"><text x="0">180</text><text x="28">181</text><text x="56">182</text><text x="83">183</text><text x="111">184</text><text x="139">185</text><text x="167">186</text><text x="195">187</text><text x="222">188</text><text x="250">189</text><text x="278">190</text><text x="306">191</text><text x="334">192</text><text x="361">193</text><text x="389">194</text><text x="417">195</text><text x="445">196</text><text x="473">197</text><text x="500">198</text><text x="528">199</text></g>
<g transform="translate(0,249)"><text x="0">160</text><text x="111">164</text><text x="139">165</text><text x="167">166</text><text x="195">167</text><text x="222">168</text><text x="250">169</text><text x="306">171</text><text x="389">174</text><text x="417">175</text><text x="445">176</text><text x="473">177</text><text x="500">178</text><text x="528">179</text></g>
<g transform="translate(0,271.6)"><text x="0">140</text><text x="28">141</text><text x="56">142</text><text x="83">143</text><text x="111">144</text><text x="139">145</text><text x="250">149</text><text x="306">151</text><text x="389">154</text><text x="417">155</text><text x="445">156</text><text x="473">157</text><text x="500">158</text><text x="528">159</text></g>
<g transform="translate(0,294.3)"><text x="0">120</text><text x="111">124</text><text x="139">125</text><text x="250">129</text><text x="278">130</text><text x="306">131</text><text x="334">132</text><text x="361">133</text><text x="389">134</text><text x="417">135</text><text x="500">138</text><text x="528">139</text></g>
<g transform="translate(0,316.9)"><text x="0">100</text><text x="111">104</text><text x="139">105</text><text x="167">106</text><text x="195">107</text><text x="222">108</text><text x="250">109</text><text x="278">110</text><text x="306">111</text><text x="334">112</text><text x="361">113</text><text x="389">114</text><text x="417">115</text><text x="445">116</text><text x="473">117</text><text x="500">118</text><text x="528">119</text></g>
<g transform="translate(0,339.5)"><text x="0">80</text><text x="28">81</text><text x="56">82</text><text x="83">83</text><text x="111">84</text><text x="139">85</text><text x="167">86</text><text x="222">88</text><text x="250">89</text><text x="278">90</text><text x="306">91</text><text x="334">92</text><text x="361">93</text><text x="389">94</text><text x="417">95</text><text x="445">96</text><text x="473">97</text><text x="500">98</text><text x="528">99</text></g>
<g transform="translate(0,362.2)"><text x="0">60</text><text x="28">61</text><text x="56">62</text><text x="83">63</text><text x="111">64</text><text x="139">65</text><text x="250">69</text><text x="278">70</text><text x="306">71</text><text x="334">72</text><text x="361">73</text><text x="389">74</text><text x="417">75</text><text x="445">76</text><text x="473">77</text><text x="500">78</text><text x="528">79</text></g>
<g transform="translate(0,384.8)"><text x="0">40</text><text x="28">41</text><text x="83">43</text><text x="111">44</text><text x="139">45</text><text x="167">46</text><text x="222">48</text><text x="250">49</text><text x="278">50</text><text x="306">51</text><text x="334">52</text><text x="361">53</text><text x="389">54</text><text x="417">55</text><text x="445">56</text><text x="473">57</text><text x="500">58</text><text x="528">59</text></g>
<g transform="translate(0,407.4)"><text x="0">20</text><text x="28">21</text><text x="83">23</text><text x="111">24</text><text x="139">25</text><text x="167">26</text><text x="195">27</text><text x="222">28</text><text x="250">29</text><text x="278">30</text><text x="306">31</text><text x="334">32</text><text x="361">33</text><text x="389">34</text><text x="417">35</text><text x="445">36</text><text x="473">37</text><text x="500">38</text><text x="528">39</text></g>
<g transform="translate(0,430.1)"><text x="0">0</text><text x="28">1</text><text x="56">2</text><text x="83">3</text><text x="111">4</text><text x="139">5</text><text x="167">6</text><text x="195">7</text><text x="222">8</text><text x="250">9</text><text x="278">10</text><text x="306">11</text><text x="334">12</text><text x="361">13</text><text x="389">14</text><text x="417">15</text><text x="445">16</text><text x="473">17</text><text x="500">18</text><text x="528">19</text></g>
</g>
<g transform="scale(27.8,22.635)"><polyline class="p" points="0.5,19.5 2.5,19.5 3,18.95 4,17.95 5,17 6,16 7,14.85 7.45,14.5 11.9,14.5 14,13.95 15.35,13.55 15.7,13.45 16,13 16.6,12.35 17,11.55 17.35,10.95 17.75,10 18.05,9.2 18.5,8.4 19,7.95 19.5,7.55 19.5,0.5"/></g>
<g class="ty"><text x="-6" y="4.5">20</text><text x="-6" y="49.8">18</text><text x="-6" y="95">16</text><text x="-6" y="140.3">14</text><text x="-6" y="185.6">12</text><text x="-6" y="230.9">10</text><text x="-6" y="276.1">8</text><text x="-6" y="321.4">6</text><text x="-6" y="366.7">4</text><text x="-6" y="411.9">2</text><text x="-6" y="457.2">0</text></g>
<g class="tx"><text x="0" y="470">0</text><text x="55.6" y="470">2</text><text x="111.2" y="470">4</text><text x="166.8" y="470">6</text><text x="222.4" y="470">8</text><text x="278" y="470">10</text><text x="333.6" y="470">12</text><text x="389.2" y="470">14</text><text x="444.8" y="470">16</text><text x="500.4" y="470">18</text><text x="556" y="470">20</text></g>
<text class="cap" x="278" y="508.7">(e) GJO</text>
</g>

<g id="panel-f" transform="translate(629.6,1111.5)">
<use xlink:href="#field" href="#field"/>
<g class="n" transform="translate(4,15.8)">
<g><text x="0">380</text><text x="28">381</text><text x="56">382</text><text x="83">383</text><text x="111">384</text><text x="139">385</text><text x="167">386</text><text x="195">387</text><text x="222">388</text><text x="250">389</text><text x="278">390</text><text x="306">391</text><text x="334">392</text><text x="361">393</text><text x="389">394</text><text x="417">395</text><text x="445">396</text><text x="473">397</text><text x="500">398</text><text x="528">399</text></g>
<g transform="translate(0,22.6)"><text x="0">360</text><text x="28">361</text><text x="56">362</text><text x="83">363</text><text x="111">364</text><text x="139">365</text><text x="167">366</text><text x="195">367</text><text x="222">368</text><text x="250">369</text><text x="306">371</text><text x="334">372</text><text x="361">373</text><text x="417">375</text><text x="445">376</text><text x="473">377</text><text x="500">378</text><text x="528">379</text></g>
<g transform="translate(0,45.3)"><text x="0">340</text><text x="28">341</text><text x="56">342</text><text x="83">343</text><text x="111">344</text><text x="139">345</text><text x="167">346</text><text x="195">347</text><text x="222">348</text><text x="250">349</text><text x="278">350</text><text x="306">351</text><text x="334">352</text><text x="361">353</text><text x="417">355</text><text x="445">356</text><text x="528">359</text></g>
<g transform="translate(0,67.9)"><text x="0">320</text><text x="28">321</text><text x="56">322</text><text x="83">323</text><text x="111">324</text><text x="139">325</text><text x="250">329</text><text x="306">331</text><text x="334">332</text><text x="361">333</text><text x="389">334</text><text x="417">335</text><text x="445">336</text><text x="528">339</text></g>
<g transform="translate(0,90.5)"><text x="0">300</text><text x="28">301</text><text x="111">304</text><text x="139">305</text><text x="250">309</text><text x="306">311</text><text x="334">312</text><text x="361">313</text><text x="389">314</text><text x="417">315</text><text x="445">316</text><text x="473">317</text><text x="500">318</text><text x="528">319</text></g>
<g transform="translate(0,113.2)"><text x="0">280</text><text x="28">281</text><text x="111">284</text><text x="139">285</text><text x="167">286</text><text x="195">287</text><text x="222">288</text><text x="250">289</text><text x="528">299</text></g>
<g transform="translate(0,135.8)"><text x="0">260</text><text x="28">261</text><text x="56">262</text><text x="83">263</text><text x="111">264</text><text x="139">265</text><text x="167">266</text><text x="195">267</text><text x="222">268</text><text x="250">269</text><text x="306">271</text><text x="334">272</text><text x="361">273</text><text x="389">274</text><text x="417">275</text><text x="445">276</text><text x="473">277</text><text x="500">278</text><text x="528">279</text></g>
<g transform="translate(0,158.4)"><text x="0">240</text><text x="28">241</text><text x="56">242</text><text x="83">243</text><text x="111">244</text><text x="139">245</text><text x="167">246</text><text x="195">247</text><text x="222">248</text><text x="250">249</text><text x="278">250</text><text x="306">251</text><text x="334">252</text><text x="389">254</text><text x="528">259</text></g>
<g transform="translate(0,181.1)"><text x="0">220</text><text x="28">221</text><text x="111">224</text><text x="139">225</text><text x="167">226</text><text x="250">229</text><text x="278">230</text><text x="306">231</text><text x="334">232</text><text x="361">233</text><text x="389">234</text><text x="417">235</text><text x="445">236</text><text x="473">237</text><text x="500">238</text><text x="528">239</text></g>
<g transform="translate(0,203.7)"><text x="0">200</text><text x="28">201</text><text x="56">202</text><text x="139">205</text><text x="167">206</text><text x="250">209</text><text x="389">214</text><text x="417">215</text><text x="445">216</text><text x="473">217</text><text x="500">218</text><text x="528">219</text></g>
<g transform="translate(0,226.4)"><text x="0">180</text><text x="28">181</text><text x="56">182</text><text x="83">183</text><text x="111">184</text><text x="139">185</text><text x="167">186</text><text x="195">187</text><text x="222">188</text><text x="250">189</text><text x="278">190</text><text x="306">191</text><text x="334">192</text><text x="361">193</text><text x="389">194</text><text x="417">195</text><text x="445">196</text><text x="473">197</text><text x="500">198</text><text x="528">199</text></g>
<g transform="translate(0,249)"><text x="0">160</text><text x="111">164</text><text x="139">165</text><text x="167">166</text><text x="195">167</text><text x="222">168</text><text x="250">169</text><text x="306">171</text><text x="389">174</text><text x="417">175</text><text x="445">176</text><text x="473">177</text><text x="500">178</text><text x="528">179</text></g>
<g transform="translate(0,271.6)"><text x="0">140</text><text x="28">141</text><text x="56">142</text><text x="83">143</text><text x="111">144</text><text x="139">145</text><text x="250">149</text><text x="306">151</text><text x="389">154</text><text x="417">155</text><text x="445">156</text><text x="473">157</text><text x="500">158</text><text x="528">159</text></g>
<g transform="translate(0,294.3)"><text x="0">120</text><text x="111">124</text><text x="139">125</text><text x="250">129</text><text x="278">130</text><text x="306">131</text><text x="334">132</text><text x="361">133</text><text x="389">134</text><text x="417">135</text><text x="500">138</text><text x="528">139</text></g>
<g transform="translate(0,316.9)"><text x="0">100</text><text x="111">104</text><text x="139">105</text><text x="167">106</text><text x="195">107</text><text x="222">108</text><text x="250">109</text><text x="278">110</text><text x="306">111</text><text x="334">112</text><text x="361">113</text><text x="389">114</text><text x="417">115</text><text x="445">116</text><text x="473">117</text><text x="500">118</text><text x="528">119</text></g>
<g transform="translate(0,339.5)"><text x="0">80</text><text x="28">81</text><text x="56">82</text><text x="83">83</text><text x="111">84</text><text x="139">85</text><text x="167">86</text><text x="222">88</text><text x="250">89</text><text x="278">90</text><text x="306">91</text><text x="334">92</text><text x="361">93</text><text x="389">94</text><text x="417">95</text><text x="445">96</text><text x="473">97</text><text x="500">98</text><text x="528">99</text></g>
<g transform="translate(0,362.2)"><text x="0">60</text><text x="28">61</text><text x="56">62</text><text x="83">63</text><text x="111">64</text><text x="139">65</text><text x="250">69</text><text x="278">70</text><text x="306">71</text><text x="334">72</text><text x="361">73</text><text x="389">74</text><text x="417">75</text><text x="445">76</text><text x="473">77</text><text x="500">78</text><text x="528">79</text></g>
<g transform="translate(0,384.8)"><text x="0">40</text><text x="28">41</text><text x="83">43</text><text x="111">44</text><text x="139">45</text><text x="167">46</text><text x="222">48</text><text x="250">49</text><text x="278">50</text><text x="306">51</text><text x="334">52</text><text x="361">53</text><text x="389">54</text><text x="417">55</text><text x="445">56</text><text x="473">57</text><text x="500">58</text><text x="528">59</text></g>
<g transform="translate(0,407.4)"><text x="0">20</text><text x="28">21</text><text x="83">23</text><text x="111">24</text><text x="139">25</text><text x="167">26</text><text x="195">27</text><text x="222">28</text><text x="250">29</text><text x="278">30</text><text x="306">31</text><text x="334">32</text><text x="361">33</text><text x="389">34</text><text x="417">35</text><text x="445">36</text><text x="473">37</text><text x="500">38</text><text x="528">39</text></g>
<g transform="translate(0,430.1)"><text x="0">0</text><text x="28">1</text><text x="56">2</text><text x="83">3</text><text x="111">4</text><text x="139">5</text><text x="167">6</text><text x="195">7</text><text x="222">8</text><text x="250">9</text><text x="278">10</text><text x="306">11</text><text x="334">12</text><text x="361">13</text><text x="389">14</text><text x="417">15</text><text x="445">16</text><text x="473">17</text><text x="500">18</text><text x="528">19</text></g>
</g>
<g transform="scale(27.8,22.635)"><polyline class="p" points="0.5,19.5 1.45,17.45 2,17 3,16 4,15 4.55,14.5 4.75,13.8 5.1,12.4 5.4,11.4 5.8,10.45 6.05,9.8 6.2,9.35 6.55,8.5 7,7.95 7.25,7.6 8.05,6.7 8.5,6.15 9.15,5.55 9.5,5.2 9.5,3.7 10.05,2.8 10.6,2.3 11.05,1.95 12,1.2 12.85,0.75 13.3,0.5 19.5,0.5"/></g>
<g class="ty"><text x="-6" y="4.5">20</text><text x="-6" y="49.8">18</text><text x="-6" y="95">16</text><text x="-6" y="140.3">14</text><text x="-6" y="185.6">12</text><text x="-6" y="230.9">10</text><text x="-6" y="276.1">8</text><text x="-6" y="321.4">6</text><text x="-6" y="366.7">4</text><text x="-6" y="411.9">2</text><text x="-6" y="457.2">0</text></g>
<g class="tx"><text x="0" y="470">0</text><text x="55.6" y="470">2</text><text x="111.2" y="470">4</text><text x="166.8" y="470">6</text><text x="222.4" y="470">8</text><text x="278" y="470">10</text><text x="333.6" y="470">12</text><text x="389.2" y="470">14</text><text x="444.8" y="470">16</text><text x="500.4" y="470">18</text><text x="556" y="470">20</text></g>
<text class="cap" x="278" y="508.7">(f) IGJO</text>
</g>
</svg>
